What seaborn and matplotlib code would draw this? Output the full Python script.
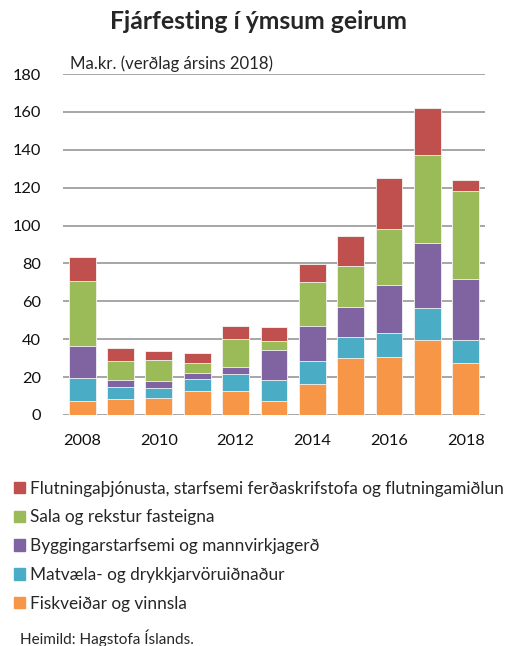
import numpy as np
import pandas as pd
import matplotlib
matplotlib.use('Agg')
import matplotlib.pyplot as plt
import matplotlib.patches as mpatches
import seaborn as sns

# data (Ma.kr.)
years = [2008, 2009, 2010, 2011, 2012, 2013, 2014, 2015, 2016, 2017, 2018]
fisk = [7.4, 8.4, 8.8, 12.7, 12.7, 7.4, 16.4, 29.9, 30.8, 39.6, 27.5]
matv = [12.3, 6.6, 5.3, 6.1, 8.8, 11.1, 12.3, 11.5, 12.5, 16.7, 12.1]
bygg = [16.5, 3.5, 4.0, 3.4, 4.0, 16.0, 18.5, 15.8, 25.3, 34.3, 32.4]
sala = [34.5, 10.0, 10.9, 5.1, 14.6, 4.4, 22.8, 21.6, 29.6, 46.8, 46.2]
flutn = [12.9, 6.9, 4.6, 5.3, 6.9, 7.7, 9.9, 15.5, 26.7, 24.7, 5.7]

labels = ['Fiskveiðar og vinnsla',
          'Matvæla- og drykkjarvöruiðnaður',
          'Byggingarstarfsemi og mannvirkjagerð',
          'Sala og rekstur fasteigna',
          'Flutningaþjónusta, starfsemi ferðaskrifstofa og flutningamiðlun']
colors = ['#F79646', '#4BACC6', '#8064A2', '#9BBB59', '#C0504D']

df = pd.DataFrame({'year': years})
series = [fisk, matv, bygg, sala, flutn]
cum = np.cumsum(np.array(series), axis=0)

sns.set_style('white')
plt.rcParams['font.family'] = ['Lato', 'DejaVu Sans']

fig = plt.figure(figsize=(5.22, 6.46), dpi=100)
ax = fig.add_axes([0.1207, 0.3576, 0.8083, 0.5278])

# stacked bars: draw cumulative totals from the top down
for i in range(len(series) - 1, -1, -1):
    df['val'] = cum[i]
    sns.barplot(data=df, x='year', y='val', color=colors[i], width=0.7,
                saturation=1, edgecolor='#f4f4f4', linewidth=0.6, ax=ax)

ax.set_ylim(0, 180)
ax.set_xlim(-0.5, len(years) - 0.5)
ax.set_yticks(range(0, 181, 20))
ax.yaxis.grid(True, color='#a6a6a6', linewidth=1.4)
ax.set_axisbelow(True)
for s in ax.spines.values():
    s.set_visible(False)
ax.set_xticks(range(0, len(years), 2))
ax.set_xticklabels([str(y) for y in years[::2]])
ax.tick_params(axis='both', length=0, labelsize=11.8, colors='#111111')
ax.tick_params(axis='x', pad=14)
ax.tick_params(axis='y', pad=16)
ax.set_xlabel('')
ax.set_ylabel('')

fig.text(0.495, 0.966, 'Fjárfesting í ýmsum geirum', ha='center', va='center',
         fontsize=17.8, fontweight='bold')
fig.text(0.134, 0.902, 'Ma.kr. (verðlag ársins 2018)', ha='left', va='center',
         fontsize=12.1)

handles = [mpatches.Patch(color=colors[i], label=labels[i]) for i in range(4, -1, -1)]
fig.legend(handles=handles, loc='upper left', bbox_to_anchor=(0.027, 0.256),
           frameon=False, fontsize=12.4, handlelength=0.65, handleheight=0.65,
           handletextpad=0.3, labelspacing=0.74, borderpad=0, borderaxespad=0)

fig.text(0.038, 0.012, 'Heimild: Hagstofa Íslands.', ha='left', va='center', fontsize=11)

fig.savefig('out.png', dpi=100)
